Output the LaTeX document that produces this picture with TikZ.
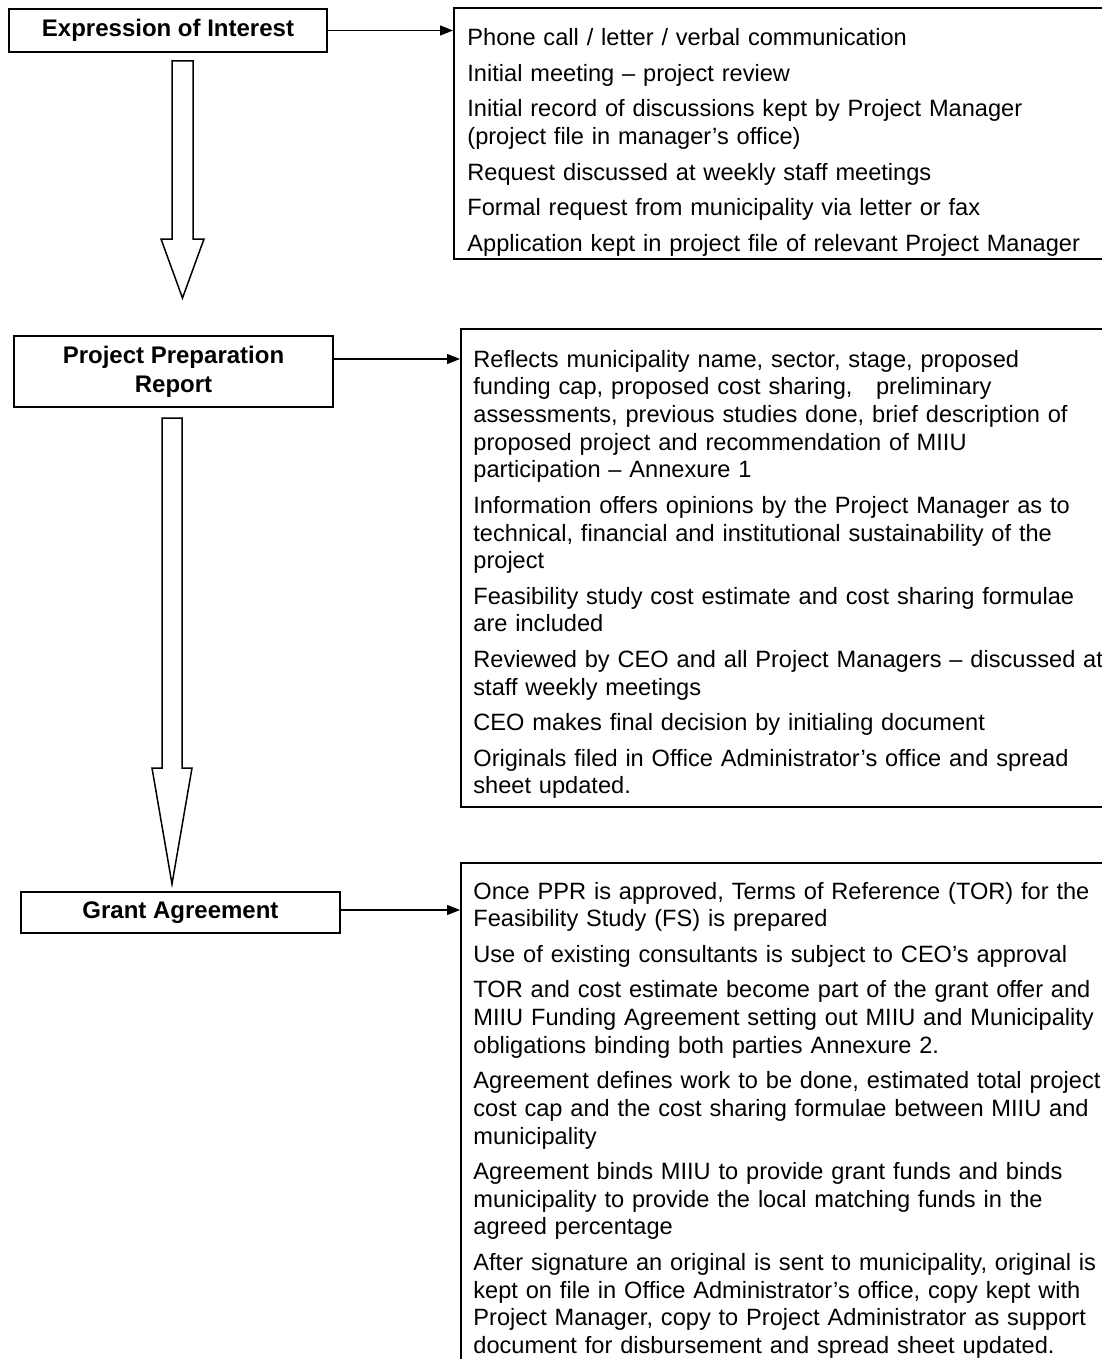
\documentclass[tikz,border=0pt]{standalone}
\usepackage{fontspec}
\setmainfont{Liberation Sans}
\usetikzlibrary{arrows.meta,calc}

\tikzset{
  stage/.style={draw, line width=0.9pt, font=\fontsize{12}{14.5}\selectfont\bfseries, align=center, inner sep=2pt},
  infobox/.style={draw, line width=0.9pt, anchor=north west, minimum width=380pt, inner sep=0pt},
  notes/.style={anchor=north west, inner sep=0pt, text width=345pt, align=left},
  flow/.style={line width=0.6pt, -{Triangle[length=6.5pt,width=5pt]}},
  hollow/.style={draw, line width=0.75pt, line join=miter, fill=white}
}

\begin{document}
\begin{tikzpicture}[x=0.5pt, y=-0.5pt, font=\fontsize{11.8}{13.85}\selectfont]
\clip (0,0) rectangle (1102,1359);
\fill[white] (0,0) rectangle (1102,1359);

% stages on the left
\node[stage, minimum width=159pt, minimum height=21.5pt] (eoi) at (168,30.5) {Expression of Interest};
\node[stage, minimum width=159.5pt, minimum height=35.5pt] (ppr) at (173.5,371.5) {Project Preparation\\Report};
\node[stage, minimum width=159.5pt, minimum height=20.5pt] (ga) at (180.5,912.5) {Grant Agreement};

% frames on the right
\node[infobox, minimum height=125.5pt] (eoinfo) at (453,7) {};
\node[infobox, minimum height=239pt] (pprinfo) at (460,328) {};
\node[infobox, minimum height=300pt] (gainfo) at (460,862) {};

\begin{scope}
\clip (eoinfo.north west) rectangle (eoinfo.south east);
\node[notes] (eoitext) at (467,28.5) {Phone call / letter / verbal communication\\[3.9pt]
Initial meeting – project review\\[3.9pt]
Initial record of discussions kept by Project Manager\\
(project file in manager’s office)\\[3.9pt]
Request discussed at weekly staff meetings\\[3.9pt]
Formal request from municipality via letter or fax\\[3.9pt]
Application kept in project file of relevant Project Manager};
\end{scope}

\node[notes] (pprtext) at (473,349.5) {Reflects municipality name, sector, stage, proposed\\
funding cap, proposed cost sharing, \ \ preliminary\\
assessments, previous studies done, brief description of\\
proposed project and recommendation of MIIU\\
participation – Annexure 1\\[3.9pt]
Information offers opinions by the Project Manager as to\\
technical, financial and institutional sustainability of the\\
project\\[3.9pt]
Feasibility study cost estimate and cost sharing formulae\\
are included\\[3.9pt]
Reviewed by CEO and all Project Managers – discussed at\\
staff weekly meetings\\[3.9pt]
CEO makes final decision by initialing document\\[3.9pt]
Originals filed in Office Administrator’s office and spread\\
sheet updated.};

\node[notes] (gatext) at (473,881.5) {Once PPR is approved, Terms of Reference (TOR) for the\\
Feasibility Study (FS) is prepared\\[3.9pt]
Use of existing consultants is subject to CEO’s approval\\[3.9pt]
TOR and cost estimate become part of the grant offer and\\
MIIU Funding Agreement setting out MIIU and Municipality\\
obligations binding both parties Annexure 2.\\[3.9pt]
Agreement defines work to be done, estimated total project\\
cost cap and the cost sharing formulae between MIIU and\\
municipality\\[3.9pt]
Agreement binds MIIU to provide grant funds and binds\\
municipality to provide the local matching funds in the\\
agreed percentage\\[3.9pt]
After signature an original is sent to municipality, original is\\
kept on file in Office Administrator’s office, copy kept with\\
Project Manager, copy to Project Administrator as support\\
document for disbursement and spread sheet updated.};

% arrows to the notes
\draw[flow] (eoi.east) -- (eoi.east -| eoinfo.west);
\draw[flow] ([yshift=6.25pt]ppr.east) -- ([yshift=6.25pt]ppr.east -| pprinfo.west);
\draw[flow] ([yshift=1.25pt]ga.east) -- ([yshift=1.25pt]ga.east -| gainfo.west);

% hollow arrows between the stages
\draw[hollow] (172,61) -- (193,61) -- (193,239) -- (204,239) -- (182.5,298) -- (161,239) -- (172,239) -- cycle;
\draw[hollow] (162,418) -- (182,418) -- (182,768) -- (192,768) -- (172,884) -- (152,768) -- (162,768) -- cycle;
\end{tikzpicture}
\end{document}
